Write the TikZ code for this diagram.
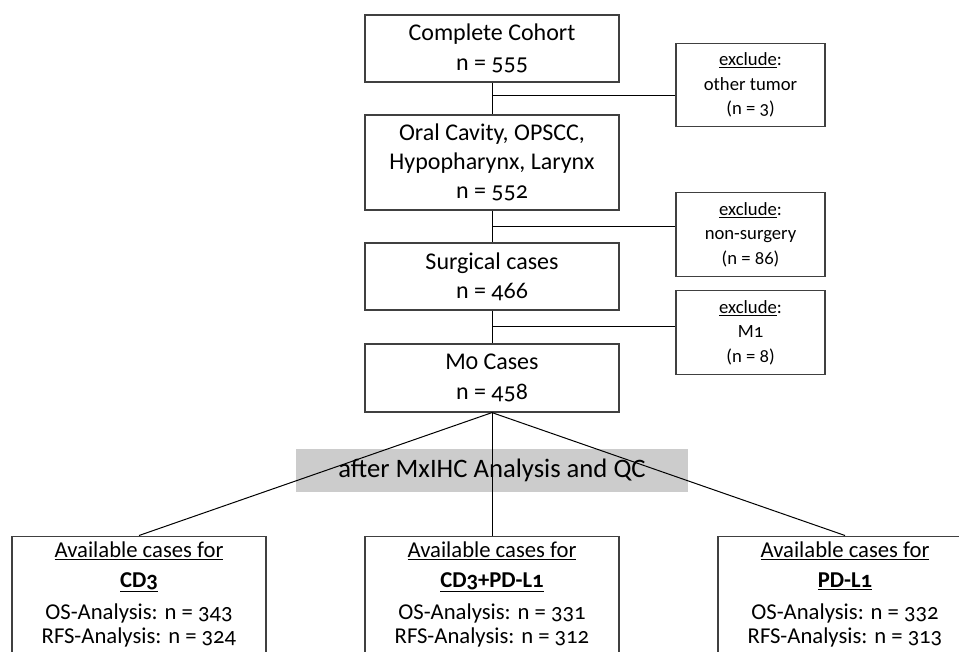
\documentclass[tikz,border=0pt]{standalone}
\usepackage{fontspec}
\setmainfont{Carlito}[Numbers=OldStyle]
\usetikzlibrary{positioning}

\begin{document}
\begin{tikzpicture}[x=0.75pt,y=-0.75pt,
    mainbox/.style={draw=black!75, line width=0.9pt, align=center,
      minimum width=190.5pt, inner sep=2pt,
      font=\fontsize{18pt}{22pt}\selectfont},
    exbox/.style={draw=black!75, line width=0.9pt, align=center,
      minimum width=111.75pt, minimum height=62.5pt, inner sep=2pt,
      font=\fontsize{14pt}{18.5pt}\selectfont},
    availbox/.style={draw=black!75, line width=0.9pt, align=center,
      minimum width=190.5pt, anchor=north, inner ysep=4pt, text depth=30pt,
      font=\fontsize{17pt}{17.5pt}\selectfont},
    link/.style={draw=black, line width=0.75pt}]
  \useasboundingbox (0,0) rectangle (959,652);

  % main column
  \node[mainbox, minimum height=50.25pt] (cohort) at (492,48.5)
    {Complete Cohort\\ n = 555};
  \node[mainbox, minimum height=71.25pt] (oral) at (492,162.5)
    {Oral Cavity, OPSCC,\\ Hypopharynx, Larynx\\ n = 552};
  \node[mainbox, minimum height=50.25pt] (surg) at (492,276.5)
    {Surgical cases\\ n = 466};
  \node[mainbox, minimum height=51pt] (mzero) at (492,378)
    {M0 Cases\\ n = 458};

  % exclusions
  \node[exbox] (exone) at (750.5,85)
    {\underline{exclude}:\\ other tumor\\ (n = 3)};
  \node[exbox] (extwo) at (750.5,234.5)
    {\underline{exclude}:\\ non-surgery\\ (n = 86)};
  \node[exbox] (exthree) at (750.5,332.5)
    {\underline{exclude}:\\ M1\\ (n = 8)};

  \coordinate (jone) at (492,96);
  \coordinate (jtwo) at (492,226.5);
  \coordinate (jthree) at (492,326.5);

  \draw[link] (cohort) -- (oral);
  \draw[link] (oral) -- (surg);
  \draw[link] (surg) -- (mzero);
  \draw[link] (jone) -- (jone -| exone.west);
  \draw[link] (jtwo) -- (jtwo -| extwo.west);
  \draw[link] (jthree) -- (jthree -| exthree.west);

  % analysis step
  \node[fill=gray!40, minimum width=294pt, minimum height=32.25pt, inner sep=0pt,
    font=\fontsize{20pt}{24pt}\selectfont] (qc) at (492,470.5)
    {after MxIHC Analysis and QC};

  % available cases
  \node[availbox] (cdthree) at (139,535.5)
    {\underline{Available cases for}\\[5pt] \textbf{\underline{CD3}}\\[7pt]
     OS-Analysis: n = 343\\ RFS-Analysis: n = 324};
  \node[availbox] (both) at (492,535.5)
    {\underline{Available cases for}\\[5pt] \textbf{\underline{CD3+PD-L1}}\\[7pt]
     OS-Analysis: n = 331\\ RFS-Analysis: n = 312};
  \node[availbox] (pdl) at (845,535.5)
    {\underline{Available cases for}\\[5pt] \textbf{\underline{PD-L1}}\\[7pt]
     OS-Analysis: n = 332\\ RFS-Analysis: n = 313};

  \draw[link] (mzero.south) -- (cdthree.north);
  \draw[link] (mzero.south) -- (both.north);
  \draw[link] (mzero.south) -- (pdl.north);
\end{tikzpicture}
\end{document}
